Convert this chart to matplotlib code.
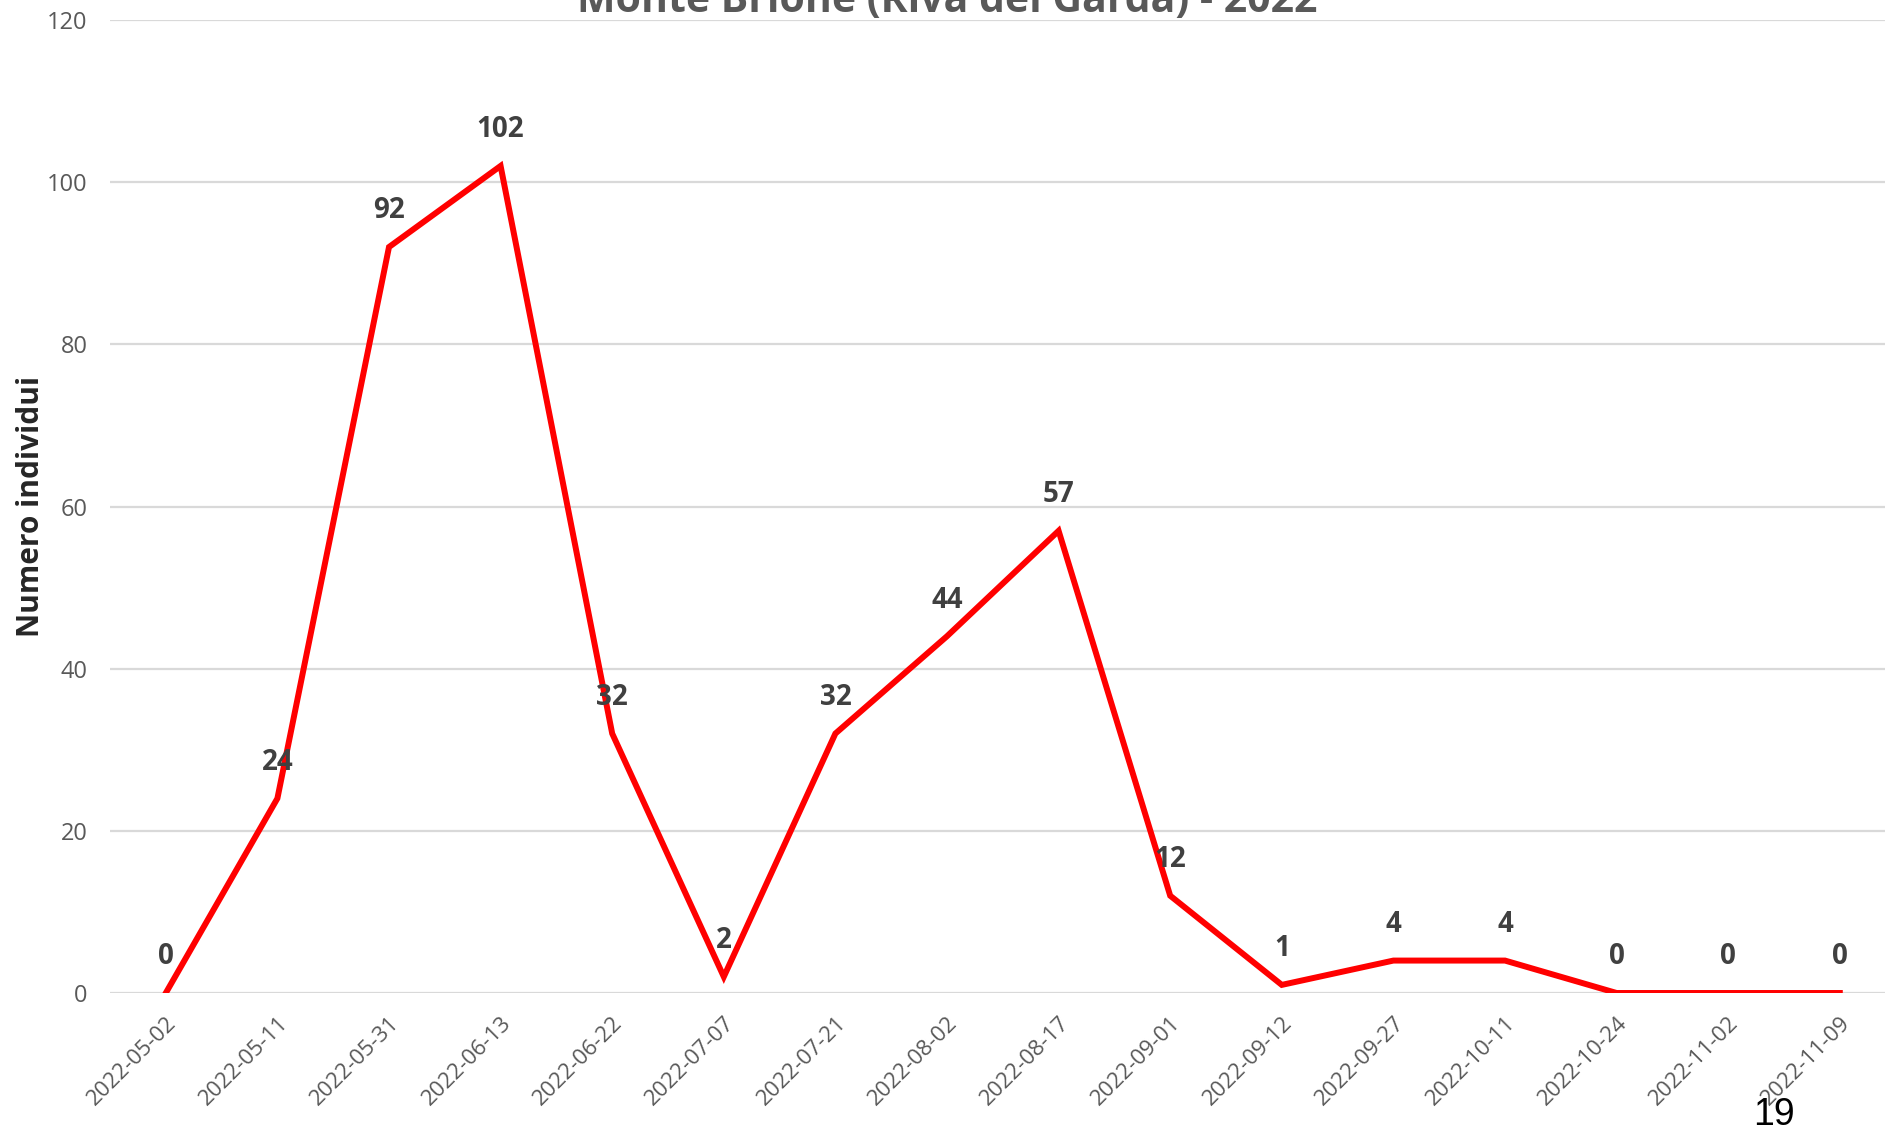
import matplotlib
matplotlib.use('Agg')
import matplotlib.pyplot as plt

dates = ['2022-05-02', '2022-05-11', '2022-05-31', '2022-06-13', '2022-06-22',
         '2022-07-07', '2022-07-21', '2022-08-02', '2022-08-17', '2022-09-01',
         '2022-09-12', '2022-09-27', '2022-10-11', '2022-10-24', '2022-11-02',
         '2022-11-09']
counts = [0, 24, 92, 102, 32, 2, 32, 44, 57, 12, 1, 4, 4, 0, 0, 0]
y_ticks = [0, 20, 40, 60, 80, 100, 120]

title = 'Monte Brione (Riva del Garda) - 2022'
y_label = 'Numero individui'
page_no = '19'

plt.rcParams['font.family'] = ['Open Sans', 'DejaVu Sans']

W, H = 1885, 1128
fig = plt.figure(figsize=(W / 100, H / 100), dpi=100)
# plot area: left edge at x=110px, 0 at y=993px, 120 at y=20px, runs past the right edge
ax = fig.add_axes([110 / W, (H - 993) / H, 1 - 110 / W, (993 - 20) / H])

x = list(range(len(dates)))
ax.plot(x, counts, color='#FF0000', lw=4.3, solid_joinstyle='miter', zorder=3)

for xi, v in zip(x, counts):
    ax.annotate(str(v), (xi, v), xytext=(0, 26), textcoords='offset points',
                ha='center', va='center', fontsize=20, fontweight='bold',
                color='#404040', zorder=4)

ax.set_xlim(-0.5, -0.5 + (W - 110) / 111.6)
ax.set_ylim(0, 120)
ax.set_yticks(y_ticks)
ax.set_xticks(x)
ax.set_xticklabels(dates, rotation=45, ha='right', rotation_mode='anchor')
ax.tick_params(axis='x', length=0, pad=14, labelsize=16, labelcolor='#595959')
ax.tick_params(axis='y', length=0, pad=16, labelsize=17, labelcolor='#595959')
ax.grid(axis='y', color='#D9D9D9', lw=1.6)
ax.set_axisbelow(True)
for s in ax.spines.values():
    s.set_visible(False)

ax.set_ylabel(y_label, fontsize=21.5, fontweight='bold', color='#262626')
ax.yaxis.set_label_coords(-64 / (W - 110), 0.5)

fig.text(947 / W, 1 - 12 / H, title, ha='center', va='baseline', fontsize=29.5,
         fontweight='bold', color='#595959')
fig.text(1774 / W, 1 - 1125 / H, page_no, ha='center', va='baseline', fontsize=27,
         family=['Liberation Sans', 'DejaVu Sans'], color='black')

fig.savefig('out.png', dpi=100)
